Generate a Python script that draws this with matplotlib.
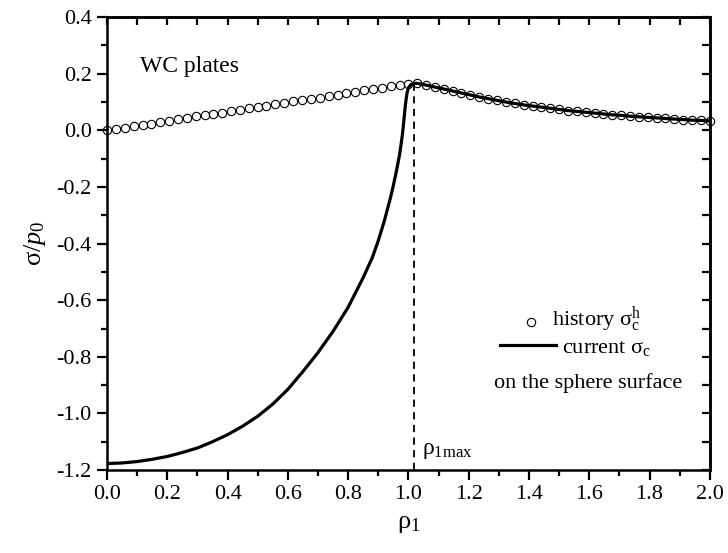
import matplotlib
matplotlib.use("Agg")
from matplotlib import pyplot as plt
from matplotlib.ticker import MultipleLocator

# history sigma_c^h (open circles)
rho_hist = [
  0.000, 0.029, 0.059, 0.088, 0.118, 0.147, 0.176, 0.206, 0.235, 0.265,
  0.294, 0.324, 0.353, 0.382, 0.412, 0.441, 0.471, 0.500, 0.529, 0.559,
  0.588, 0.618, 0.647, 0.676, 0.706, 0.735, 0.765, 0.794, 0.824, 0.853,
  0.882, 0.912, 0.941, 0.971, 1.000, 1.029, 1.059, 1.088, 1.118, 1.147,
  1.176, 1.206, 1.235, 1.265, 1.294, 1.324, 1.353, 1.382, 1.412, 1.441,
  1.471, 1.500, 1.529, 1.559, 1.588, 1.618, 1.647, 1.676, 1.706, 1.735,
  1.765, 1.794, 1.824, 1.853, 1.882, 1.912, 1.941, 1.971, 2.000,
]
sigma_hist = [
  0.000, 0.005, 0.010, 0.015, 0.019, 0.024, 0.029, 0.034, 0.039, 0.044,
  0.049, 0.053, 0.058, 0.063, 0.068, 0.073, 0.078, 0.083, 0.087, 0.092,
  0.097, 0.102, 0.107, 0.112, 0.116, 0.121, 0.126, 0.131, 0.136, 0.141,
  0.146, 0.150, 0.155, 0.160, 0.165, 0.166, 0.160, 0.153, 0.146, 0.139,
  0.132, 0.125, 0.118, 0.112, 0.106, 0.100, 0.095, 0.090, 0.086, 0.082,
  0.078, 0.074, 0.070, 0.067, 0.064, 0.061, 0.058, 0.055, 0.053, 0.050,
  0.048, 0.046, 0.044, 0.042, 0.040, 0.038, 0.036, 0.035, 0.033,
]

# current sigma_c on the sphere surface, up to rho_1max
rho_cur = [
  0.00, 0.05, 0.10, 0.15, 0.20, 0.25, 0.30, 0.35, 0.40, 0.45,
  0.50, 0.55, 0.60, 0.65, 0.70, 0.75, 0.80, 0.85, 0.88, 0.90,
  0.92, 0.94, 0.95, 0.96, 0.97, 0.975, 0.98, 0.985, 0.99, 0.995,
  1.00, 1.005, 1.01, 1.02,
]
sigma_cur = [
  -1.177, -1.175, -1.170, -1.162, -1.152, -1.138, -1.122, -1.100, -1.075, -1.045,
  -1.010, -0.967, -0.915, -0.852, -0.785, -0.710, -0.625, -0.520, -0.450, -0.390,
  -0.320, -0.240, -0.195, -0.145, -0.090, -0.055, -0.015, 0.035, 0.090, 0.130,
  0.150, 0.158, 0.162, 0.166,
]
rho1max = 1.02

plt.rcParams["font.family"] = ["Liberation Serif", "DejaVu Serif"]
plt.rcParams["mathtext.fontset"] = "custom"
plt.rcParams["mathtext.rm"] = "Liberation Serif"
plt.rcParams["mathtext.it"] = "Liberation Serif:italic"

fig = plt.figure(figsize = (7.28, 5.53), dpi = 100)
ax = fig.add_axes([0.147, 0.150, 0.828, 0.819])

# current curve continues along the history beyond rho_1max
tail = [(r, s) for r, s in zip(rho_hist, sigma_hist) if r > rho1max]
x_cur = rho_cur + [r for r, _ in tail]
y_cur = sigma_cur + [s for _, s in tail]

ax.plot(rho_hist, sigma_hist, "o", ms = 6, mfc = "none", mec = "black", mew = 0.8,
  clip_on = False, zorder = 3)
ax.plot(x_cur, y_cur, "-", color = "black", lw = 2.3, zorder = 2,
  solid_joinstyle = "round")
ax.vlines(rho1max, -1.2, max(sigma_cur), colors = "black", linestyles = (0, (4, 3)),
  lw = 1.3)

ax.set_xlim(0, 2.0)
ax.set_ylim(-1.2, 0.4)
ax.xaxis.set_major_locator(MultipleLocator(0.2))
ax.xaxis.set_minor_locator(MultipleLocator(0.1))
ax.yaxis.set_major_locator(MultipleLocator(0.2))
ax.yaxis.set_minor_locator(MultipleLocator(0.1))
ax.xaxis.set_major_formatter(plt.FuncFormatter(lambda v, p: f"{v:.1f}"))
ax.yaxis.set_major_formatter(plt.FuncFormatter(lambda v, p: f"{v:.1f}"))

ax.tick_params(which = "major", direction = "out", length = 7, width = 1.6,
  labelsize = 16, pad = 4)
ax.tick_params(which = "minor", direction = "out", length = 4.5, width = 1.6)
for s in ax.spines.values():
  s.set_linewidth(1.8)

top = ax.secondary_xaxis("top")
right = ax.secondary_yaxis("right")
for sec, axis in ((top, top.xaxis), (right, right.yaxis)):
  axis.set_major_locator(MultipleLocator(0.2))
  axis.set_minor_locator(MultipleLocator(0.1))
  sec.tick_params(which = "both", direction = "in", length = 5.5, width = 1.6,
    labelleft = False, labelright = False, labeltop = False, labelbottom = False)
  for s in sec.spines.values():
    s.set_linewidth(1.8)

ax.set_xlabel(r"$\mathrm{ρ}_{\mathrm{1}}$", fontsize = 19, labelpad = 6)
ax.set_ylabel(r"$\mathrm{σ}/p_{\mathrm{0}}$", fontsize = 19, labelpad = 6)

ax.text(0.055, 0.892, "WC plates", transform = ax.transAxes, fontsize = 17,
  va = "center", ha = "left")
ax.text(rho1max + 0.025, -1.13, r"$\mathrm{ρ}_{\mathrm{1max}}$", fontsize = 17,
  va = "center", ha = "left")

# legend drawn by hand
ax.plot([0.703], [0.327], "o", ms = 6, mfc = "none", mec = "black", mew = 0.8,
  transform = ax.transAxes)
ax.text(0.738, 0.332, r"history $\mathrm{σ}_{\mathrm{c}}^{\mathrm{h}}$",
  transform = ax.transAxes, fontsize = 16, va = "center", ha = "left")
ax.plot([0.652, 0.745], [0.276, 0.276], "-", color = "black", lw = 2.3,
  transform = ax.transAxes)
ax.text(0.755, 0.268, r"current $\mathrm{σ}_{\mathrm{c}}$",
  transform = ax.transAxes, fontsize = 16, va = "center", ha = "left")
ax.text(0.798, 0.192, "on the sphere surface", transform = ax.transAxes,
  fontsize = 16, va = "center", ha = "center")

fig.savefig("out.png", dpi = 100)
